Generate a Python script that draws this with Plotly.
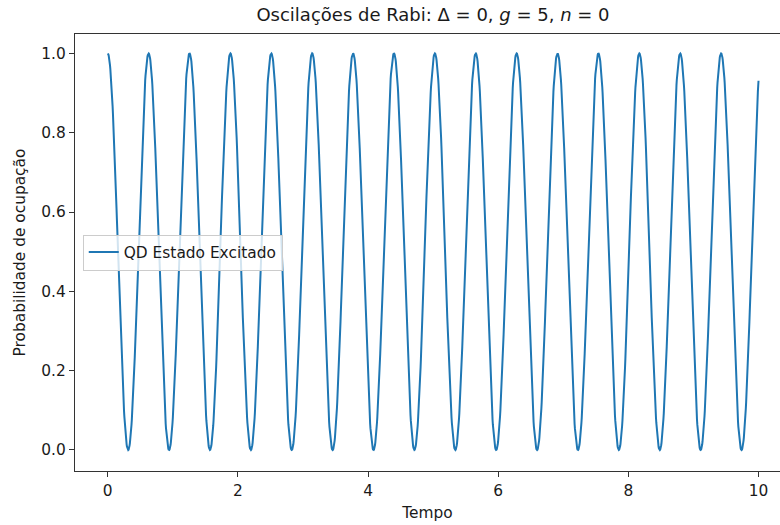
import numpy as np
import plotly.graph_objects as go

# Jaynes-Cummings resonant case: detuning, coupling and photon number
delta = 0
g = 5
n = 0

t_start, t_end, n_samples = 0.0, 10.0, 2000
tempo = np.linspace(t_start, t_end, n_samples)

# Excited-state population of the quantum dot at zero detuning
omega = 2 * g * np.sqrt(n + 1)
p_excitado = np.cos(omega * tempo / 2) ** 2

x_ticks = [0, 2, 4, 6, 8, 10]
y_ticks = [0.0, 0.2, 0.4, 0.6, 0.8, 1.0]

font = "DejaVu Sans, Liberation Sans, sans-serif"
txt = "#1a1a1a"
small = 15.4

fig = go.Figure()
fig.add_trace(go.Scatter(
    x=tempo, y=p_excitado, mode="lines",
    name="QD Estado Excitado",
    line=dict(color="#1f77b4", width=2),
))

fig.update_layout(
    width=780, height=525,
    margin=dict(l=75, r=0, t=34, b=54),
    paper_bgcolor="white", plot_bgcolor="white",
    font=dict(family=font, size=small, color=txt),
    title=dict(
        text="Oscilações de Rabi: Δ = 0, <i>g</i> = 5, <i>n</i> = 0",
        x=433 / 780, xref="container", xanchor="center",
        y=1 - 15 / 525, yref="container", yanchor="middle",
        font=dict(family=font, size=18, color=txt),
    ),
    showlegend=True,
    legend=dict(
        x=0.011, xanchor="left", y=0.5, yanchor="middle",
        bgcolor="rgba(255,255,255,0.8)", bordercolor="#cccccc", borderwidth=1,
        font=dict(family=font, size=small, color=txt),
        itemwidth=30,
    ),
)

fig.update_xaxes(
    range=[-0.503, 10.33],
    tickvals=x_ticks, ticktext=[str(v) for v in x_ticks],
    showgrid=False, zeroline=False,
    showline=True, linecolor="#333333", linewidth=1.2, mirror=True,
    ticks="outside", ticklen=5, tickwidth=1.1, tickcolor="#333333",
    title=dict(text="Tempo", font=dict(family=font, size=small, color=txt), standoff=8),
)
fig.update_yaxes(
    range=[-0.053, 1.049],
    tickvals=y_ticks, ticktext=[f"{v:.1f}" for v in y_ticks],
    showgrid=False, zeroline=False,
    showline=True, linecolor="#333333", linewidth=1.2, mirror=False,
    ticks="outside", ticklen=5, tickwidth=1.1, tickcolor="#333333",
    title=dict(text="Probabilidade de ocupação", font=dict(family=font, size=small, color=txt), standoff=11),
)

fig.write_html("out.html")
